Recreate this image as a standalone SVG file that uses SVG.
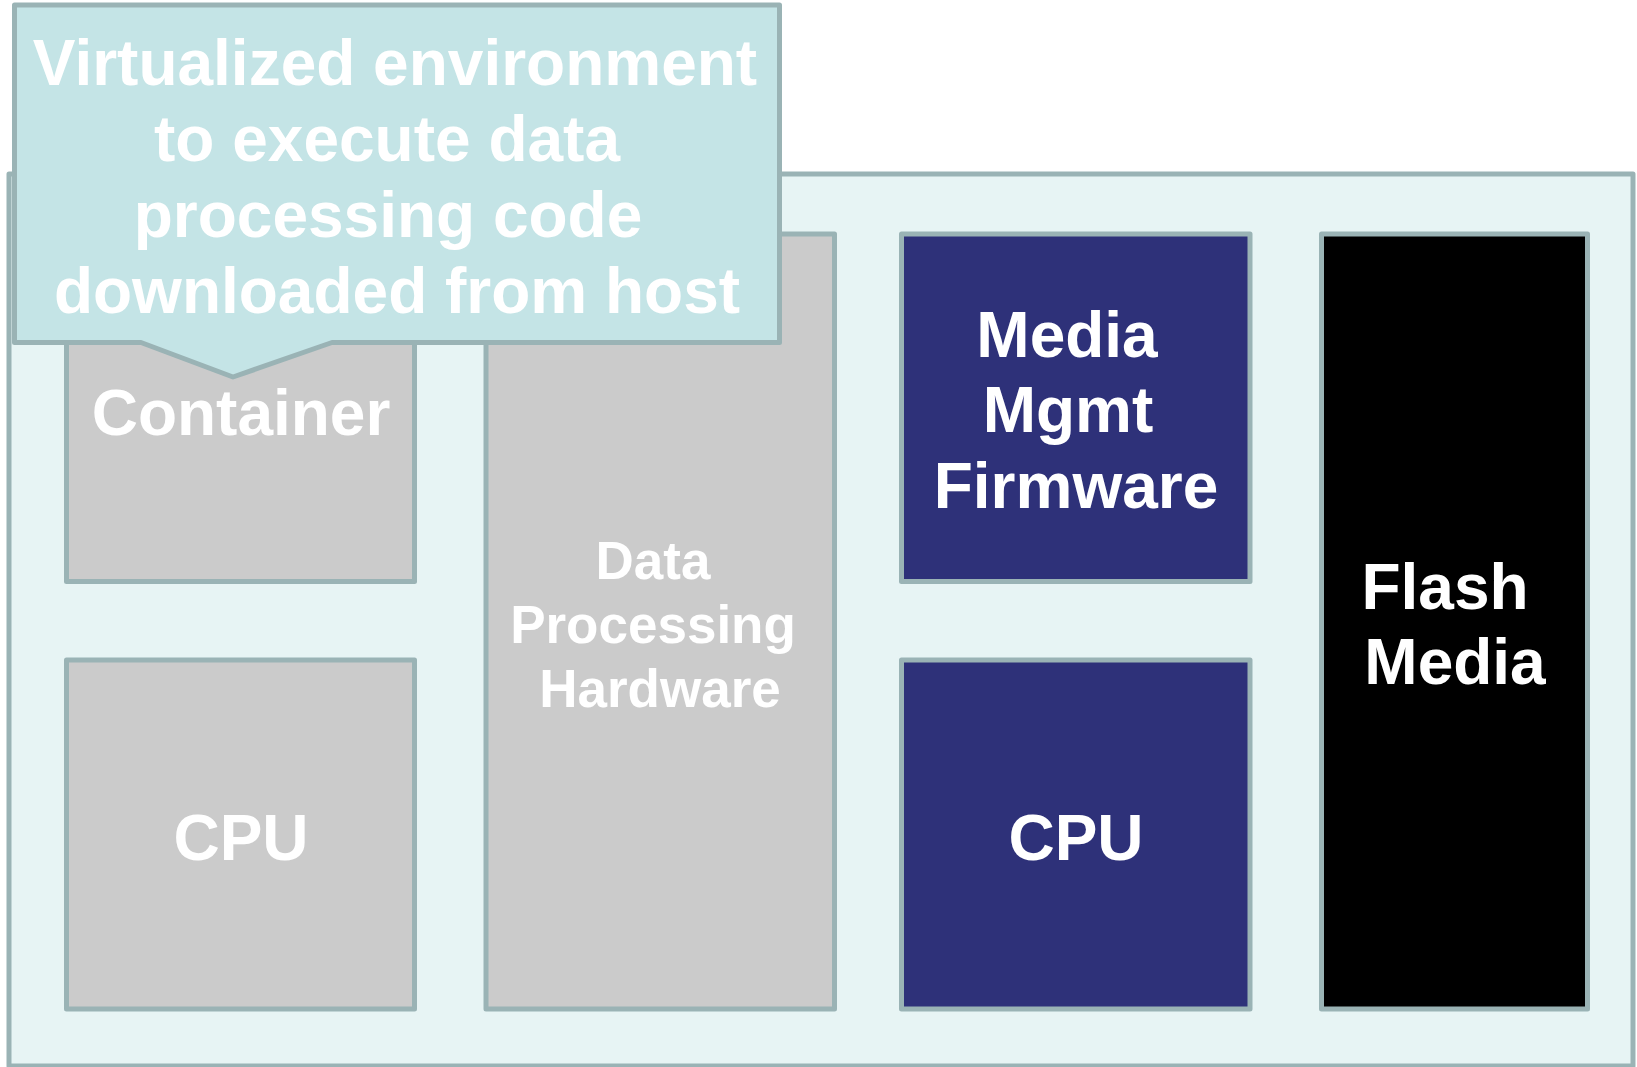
<svg xmlns="http://www.w3.org/2000/svg" width="1637" height="1067" viewBox="0 0 1637 1067">
  <style>
    .frame { stroke: #9ab3b5; stroke-width: 5; stroke-linejoin: round; }
    .board { fill: #e7f4f4; }
    .soft { fill: #cbcbcb; }
    .fw { fill: #2e3179; }
    .flash { fill: #000000; }
    .note { fill: #c4e4e6; }
    .lbl { fill: #ffffff; font-family: "Liberation Sans", Arial, sans-serif; font-weight: bold; text-anchor: middle; }
    .big { font-size: 64px; }
    .mid { font-size: 53px; }
  </style>

  <!-- device board -->
  <g id="board">
    <rect class="board frame" x="9" y="174" width="1624" height="892"/>
  </g>

  <!-- connectors (none in this diagram) -->
  <g id="connectors"/>

  <g id="container">
    <rect class="soft frame" x="66.5" y="234" width="348" height="347.5"/>
    <text class="lbl big" x="241" y="435">Container</text>
  </g>

  <g id="cpu-left">
    <rect class="soft frame" x="66.5" y="660" width="348" height="349"/>
    <text class="lbl big" x="241" y="860">CPU</text>
  </g>

  <g id="data-processing-hardware">
    <rect class="soft frame" x="486" y="234" width="348.5" height="775"/>
    <text class="lbl mid" x="653" y="579">Data</text>
    <text class="lbl mid" x="653" y="643">Processing</text>
    <text class="lbl mid" x="660" y="707">Hardware</text>
  </g>

  <g id="media-mgmt-firmware">
    <rect class="fw frame" x="901.5" y="234" width="348.5" height="347.5"/>
    <text class="lbl big" x="1067" y="357">Media</text>
    <text class="lbl big" x="1068" y="432">Mgmt</text>
    <text class="lbl big" x="1076" y="508">Firmware</text>
  </g>

  <g id="cpu-right">
    <rect class="fw frame" x="901.5" y="660" width="348.5" height="349"/>
    <text class="lbl big" x="1076" y="860">CPU</text>
  </g>

  <g id="flash-media">
    <rect class="flash frame" x="1321.5" y="234" width="266" height="775"/>
    <text class="lbl big" x="1445" y="609">Flash</text>
    <text class="lbl big" x="1455" y="684">Media</text>
  </g>

  <!-- callout pointing at the container -->
  <g id="callout">
    <path class="note frame" d="M14.5,5 H779.5 V342.5 H332 L233,377 L141,342.5 H14.5 Z"/>
    <text class="lbl big" x="395" y="85">Virtualized environment</text>
    <text class="lbl big" x="387" y="161">to execute data</text>
    <text class="lbl big" x="388" y="237">processing code</text>
    <text class="lbl big" x="397" y="313">downloaded from host</text>
  </g>
</svg>
